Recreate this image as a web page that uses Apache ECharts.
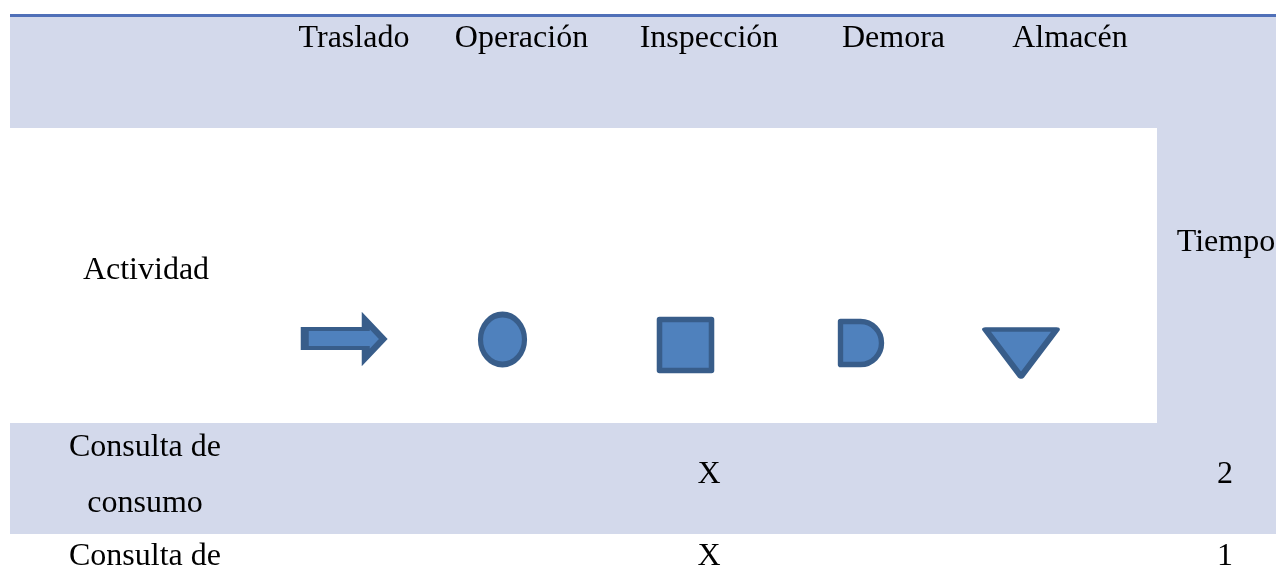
<!DOCTYPE html>
<html>
<head>
<meta charset="utf-8">
<style>html,body{margin:0;padding:0;background:#fff}#chart{width:1276px;height:582px}</style>
<script src="https://cdn.jsdelivr.net/npm/echarts@6/dist/echarts.min.js"></script>
</head>
<body>
<div id="chart"></div>
<script>
// ---- table content ----
const columns = ['Traslado', 'Operación', 'Inspección', 'Demora', 'Almacén'];
const rowTitle = 'Actividad';
const timeTitle = 'Tiempo';
const activityLines = [['Consulta de', 'consumo'], ['Consulta de']];
const marks = ['Inspección', 'Inspección'];
const times = [2, 1];

// ---- layout of the table on the page scale ----
const W = 1276, H = 582;
const columnCenters = {Traslado: 354, 'Operación': 521.5, 'Inspección': 709, Demora: 893.5, 'Almacén': 1070};
const symbolCenters = {Traslado: [344, 339], 'Operación': [502.5, 339.5], 'Inspección': [685.5, 345], Demora: [861, 343], 'Almacén': [1021, 353]};
const activityX = 145, timeX = 1225;
const timeTitleX = 1226;
const headerY = 39, titleY = 271, timeTitleY = 243;
const rowLineY = [[448, 504], [557]];
const rowCenterY = [475, 557];
const bands = [
  {x0: 10, x1: W, y0: 17, y1: 128, c: '#D3D9EB'},
  {x0: 1157, x1: W, y0: 128, y1: 423, c: '#D3D9EB'},
  {x0: 10, x1: W, y0: 423, y1: 534, c: '#D3D9EB'},
  {x0: 10, x1: W, y0: 14, y1: 17, c: '#5070B8'}
];
const symbolPaths = {
  Traslado: {p: 'path://M0 8.5L61 8.5L61 0L78.5 18.5L61 37L61 27.5L0 27.5Z', s: [78.5, 37], j: 'miter'},
  'Operación': {p: 'circle', s: [44, 50], j: 'round'},
  'Inspección': {p: 'rect', s: [52, 51], j: 'round'},
  Demora: {p: 'path://M0 0L20 0A21 21.5 0 0 1 20 43L0 43Z', s: [41, 43], j: 'round'},
  'Almacén': {p: 'path://M0 0L71 0L35.5 47Z', s: [71, 47], j: 'round'}
};

// ---- text items ----
const textItems = [];
columns.forEach(c => textItems.push({value: [columnCenters[c], headerY], text: c}));
textItems.push({value: [activityX + 1, titleY], text: rowTitle});
textItems.push({value: [timeTitleX, timeTitleY], text: timeTitle});
activityLines.forEach((lines, r) => {
  lines.forEach((t, i) => textItems.push({value: [activityX, rowLineY[r][i]], text: t}));
  textItems.push({value: [columnCenters[marks[r]], rowCenterY[r]], text: 'X'});
  textItems.push({value: [timeX, rowCenterY[r]], text: String(times[r])});
});

const option = {
  animation: false,
  backgroundColor: '#fff',
  grid: {left: 0, right: 0, top: 0, bottom: 0},
  xAxis: {type: 'value', min: 0, max: W, show: false},
  yAxis: {type: 'value', min: 0, max: H, inverse: true, show: false},
  series: [
    {
      type: 'custom', silent: true, clip: false, z: 1,
      data: bands.map(b => [b.x0, b.y0, b.x1, b.y1]),
      renderItem: (params, api) => {
        const a = api.coord([api.value(0), api.value(1)]);
        const b = api.coord([api.value(2), api.value(3)]);
        return {
          type: 'rect',
          shape: {x: a[0], y: a[1], width: b[0] - a[0], height: b[1] - a[1]},
          style: {fill: bands[params.dataIndex].c}
        };
      }
    },
    {
      type: 'scatter', silent: true, z: 2,
      data: columns.map(c => ({
        value: symbolCenters[c],
        symbol: symbolPaths[c].p,
        symbolSize: symbolPaths[c].s,
        itemStyle: {borderJoin: symbolPaths[c].j}
      })),
      itemStyle: {color: '#4F81BD', borderColor: '#385D8A', borderWidth: 5.5, opacity: 1}
    },
    {
      type: 'scatter', silent: true, z: 3,
      symbolSize: 0,
      itemStyle: {opacity: 1},
      data: textItems,
      label: {
        show: true, position: 'inside', align: 'center', verticalAlign: 'middle',
        fontFamily: '"Liberation Serif", "Times New Roman", serif',
        fontSize: 32, color: '#000', textBorderWidth: 0, textBorderColor: 'transparent', textShadowBlur: 0,
        formatter: p => p.data.text
      }
    }
  ]
};
echarts.init(document.getElementById('chart'), null, {renderer: 'canvas'}).setOption(option);
</script>
</body>
</html>
